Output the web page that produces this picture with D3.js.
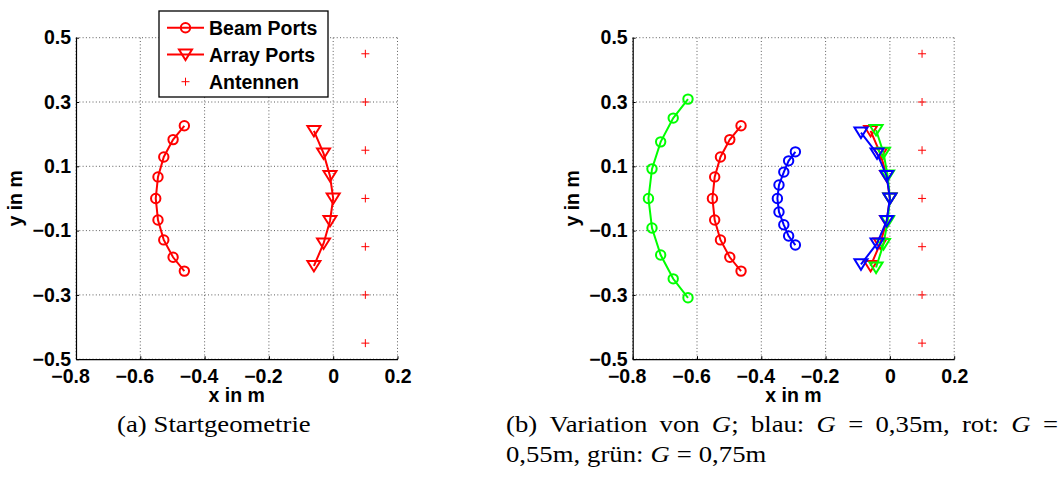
<!DOCTYPE html>
<html><head><meta charset="utf-8">
<script src="https://cdn.jsdelivr.net/npm/d3@7"></script>
<style>body{margin:0;background:#fff}svg{display:block}</style>
</head><body>
<svg id="c" width="1063" height="484"></svg>
<script>
// ---- data ----
const xTicks = [-0.8, -0.6, -0.4, -0.2, 0, 0.2];
const yTicks = [-0.5, -0.3, -0.1, 0.1, 0.3, 0.5];
const antX = [0.1, 0.1, 0.1, 0.1, 0.1, 0.1, 0.1];
const antY = [0.45, 0.3, 0.15, 0, -0.15, -0.3, -0.45];
// G = 0.55 m (red, start geometry)
const beamRedX = [-0.463, -0.498, -0.527, -0.545, -0.552, -0.545, -0.527, -0.498, -0.463];
const beamRedY = [0.226, 0.183, 0.129, 0.067, 0, -0.067, -0.129, -0.183, -0.226];
const arrRedX = [-0.06, -0.03, -0.01, 0, -0.01, -0.03, -0.06];
const arrRedY = [0.21, 0.14, 0.07, 0, -0.07, -0.14, -0.21];
// G = 0.35 m (blue)
const beamBlueX = [-0.294, -0.315, -0.330, -0.345, -0.350, -0.345, -0.330, -0.315, -0.294];
const beamBlueY = [0.145, 0.117, 0.082, 0.042, 0, -0.042, -0.082, -0.117, -0.145];
const arrBlueX = [-0.09, -0.04, -0.01, 0, -0.01, -0.04, -0.09];
const arrBlueY = [0.205, 0.14, 0.07, 0, -0.07, -0.14, -0.205];
// G = 0.75 m (green)
const beamGreenX = [-0.628, -0.674, -0.713, -0.740, -0.751, -0.740, -0.713, -0.674, -0.628];
const beamGreenY = [0.309, 0.25, 0.176, 0.092, 0, -0.092, -0.176, -0.25, -0.309];
const arrGreenX = [-0.043, -0.02, -0.007, 0, -0.007, -0.02, -0.043];
const arrGreenY = [0.213, 0.142, 0.071, 0, -0.071, -0.142, -0.215];
const legendLabels = ["Beam Ports", "Array Ports", "Antennen"];
// caption tokens: [text, italic]
const captionA = [[["(a)", 0]], [["Startgeometrie", 0]]];
const captionB1 = [[["(b)", 0]], [["Variation", 0]], [["von", 0]], [["G", 1], [";", 0]], [["blau:", 0]],
  [["G", 1]], [["=", 0]], [["0,35m,", 0]], [["rot:", 0]], [["G", 1]], [["=", 0]]];
const captionB2 = [[["0,55m,", 0]], [["grün:", 0]], [["G", 1]], [["=", 0]], [["0,75m", 0]]];

const zip = (xs, ys) => xs.map((x, i) => [x, ys[i]]);
const svg = d3.select("#c");
const FONT = "'Liberation Sans', Arial, Helvetica, sans-serif";

function panel(left, series) {
  const top = 37.7, size = 321.5;
  const x = d3.scaleLinear().domain([-0.8, 0.2]).range([left, left + size]);
  const y = d3.scaleLinear().domain([-0.5, 0.5]).range([top + size, top]);
  const g = svg.append("g");
  g.append("g").selectAll("line").data(xTicks).join("line")
    .attr("x1", d => x(d)).attr("x2", d => x(d)).attr("y1", top).attr("y2", top + size)
    .attr("stroke", "#333").attr("stroke-width", 0.8).attr("stroke-dasharray", "1,2.3");
  g.append("g").selectAll("line").data(yTicks).join("line")
    .attr("y1", d => y(d)).attr("y2", d => y(d)).attr("x1", left).attr("x2", left + size)
    .attr("stroke", "#333").attr("stroke-width", 0.8).attr("stroke-dasharray", "1,2.3");
  const xa = d3.axisBottom(x).tickValues(xTicks).tickSizeInner(-3).tickSizeOuter(0)
    .tickPadding(10).tickFormat(d => d === 0 ? "0" : d3.format(".1f")(d).replace("-", "\u2212"));
  const ya = d3.axisLeft(y).tickValues(yTicks).tickSizeInner(-3).tickSizeOuter(0)
    .tickPadding(5).tickFormat(d => d3.format(".1f")(d).replace("-", "\u2212"));
  const gx = g.append("g").attr("transform", `translate(0,${top + size})`).call(xa);
  const gy = g.append("g").attr("transform", `translate(${left},0)`).call(ya);
  [gx, gy].forEach(a => {
    a.select(".domain").attr("stroke", "#000").attr("stroke-width", 1.2);
    a.selectAll(".tick line").attr("stroke", "#000");
    a.selectAll("text").attr("font-family", FONT).attr("font-weight", "bold")
      .attr("font-size", 19.5).attr("fill", "#000");
  });
  gx.selectAll("text").attr("dy", "0.71em").attr("dx", d => d < 0 ? -6 : 0);
  g.append("text").attr("x", left + size / 2).attr("y", 402).attr("text-anchor", "middle")
    .attr("font-family", FONT).attr("font-weight", "bold").attr("font-size", 19.5).text("x in m");
  g.append("text").attr("transform", `translate(${left - 54},${top + size / 2}) rotate(-90)`)
    .attr("text-anchor", "middle")
    .attr("font-family", FONT).attr("font-weight", "bold").attr("font-size", 19.5).text("y in m");

  const line = d3.line().x(d => x(d[0])).y(d => y(d[1]));
  const tri = "M-6.5,-5L6.5,-5L0,5.5Z";
  series.forEach(s => {
    const bp = zip(s.bx, s.by), ap = zip(s.ax, s.ay);
    g.append("path").attr("d", line(bp)).attr("fill", "none").attr("stroke", s.c).attr("stroke-width", 2);
    g.append("g").selectAll("circle").data(bp).join("circle")
      .attr("cx", d => x(d[0])).attr("cy", d => y(d[1])).attr("r", 4.7)
      .attr("fill", "none").attr("stroke", s.c).attr("stroke-width", 2);
    g.append("path").attr("d", line(ap)).attr("fill", "none").attr("stroke", s.c).attr("stroke-width", 2);
    g.append("g").selectAll("path").data(ap).join("path")
      .attr("transform", d => `translate(${x(d[0])},${y(d[1])})`).attr("d", tri)
      .attr("fill", "none").attr("stroke", s.c).attr("stroke-width", 2).attr("stroke-linejoin", "miter");
  });
  g.append("g").selectAll("path").data(zip(antX, antY)).join("path")
    .attr("transform", d => `translate(${x(d[0])},${y(d[1])})`).attr("d", "M-4,0H4M0,-4V4")
    .attr("stroke", "#f00").attr("stroke-width", 1);
  return g;
}

panel(76, [{ c: "#f00", bx: beamRedX, by: beamRedY, ax: arrRedX, ay: arrRedY }]);
panel(632.7, [
  { c: "#f00", bx: beamRedX, by: beamRedY, ax: arrRedX, ay: arrRedY },
  { c: "#0f0", bx: beamGreenX, by: beamGreenY, ax: arrGreenX, ay: arrGreenY },
  { c: "#00f", bx: beamBlueX, by: beamBlueY, ax: arrBlueX, ay: arrBlueY }
]);

// legend (left panel)
const lg = svg.append("g");
lg.append("rect").attr("x", 159).attr("y", 11).attr("width", 169).attr("height", 86)
  .attr("fill", "#fff").attr("stroke", "#000").attr("stroke-width", 1.3);
const rowsY = [27.7, 54.5, 81.7];
legendLabels.forEach((t, i) => {
  const cy = rowsY[i];
  if (i < 2) lg.append("line").attr("x1", 167).attr("x2", 204).attr("y1", cy).attr("y2", cy)
    .attr("stroke", "#f00").attr("stroke-width", 2);
  if (i === 0) lg.append("circle").attr("cx", 185.5).attr("cy", cy).attr("r", 4.7)
    .attr("fill", "none").attr("stroke", "#f00").attr("stroke-width", 2);
  if (i === 1) lg.append("path").attr("transform", `translate(185.5,${cy})`).attr("d", "M-6.5,-5L6.5,-5L0,5.5Z")
    .attr("fill", "none").attr("stroke", "#f00").attr("stroke-width", 2);
  if (i === 2) lg.append("path").attr("transform", `translate(185.5,${cy})`).attr("d", "M-4,0H4M0,-4V4")
    .attr("stroke", "#f00").attr("stroke-width", 1);
  lg.append("text").attr("x", 209).attr("y", cy + 7).attr("font-family", FONT)
    .attr("font-weight", "bold").attr("font-size", 19.5).text(t);
});

// captions: tokens with uniform horizontal glyph scale, laid out left to right
const SERIF = "'Liberation Serif', 'Times New Roman', serif";
const SCALE = 1.16;
function captionLine(tokens, x0, y0, x1, gap) {
  const items = tokens.map(tok => {
    const t = svg.append("text").attr("x", 0).attr("y", y0).attr("font-family", SERIF).attr("font-size", 23);
    tok.forEach(([s, it]) => t.append("tspan").attr("font-style", it ? "italic" : null).text(s));
    const w = t.node().getComputedTextLength() * SCALE;
    t.attr("textLength", w).attr("lengthAdjust", "spacingAndGlyphs");
    return { t, w };
  });
  const total = d3.sum(items, d => d.w);
  const g = x1 != null ? (x1 - x0 - total) / (items.length - 1) : gap;
  let x = x0;
  items.forEach(d => { d.t.attr("x", x); x += d.w + g; });
}
captionLine(captionA, 117, 432, null, 7);
captionLine(captionB1, 506, 432, 1058);
captionLine(captionB2, 506, 462, null, 7);
</script>
</body></html>
